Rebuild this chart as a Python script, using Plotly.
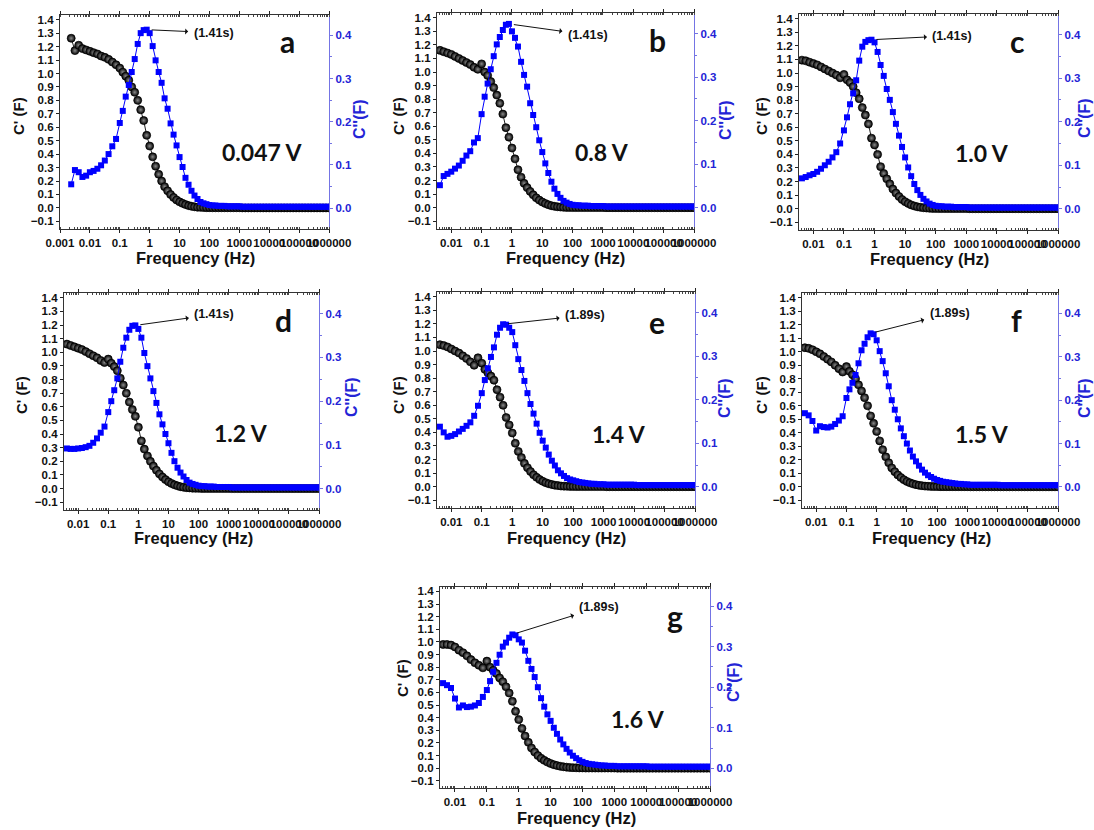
import math
import plotly.graph_objects as go

# ---------------- data ----------------
FREQ = [0.00237, 0.00316, 0.00422, 0.00562, 0.0075,
        0.01, 0.0133, 0.0178, 0.0237, 0.0316, 0.0422, 0.0562, 0.075,
        0.1, 0.126, 0.158, 0.2, 0.251, 0.316, 0.398, 0.501, 0.631, 0.794,
        1.0, 1.26, 1.58, 2.0, 2.51, 3.16, 3.98, 5.01, 6.31, 7.94,
        10, 12.6, 15.8, 20, 25.1, 31.6, 39.8, 50.1, 63.1, 79.4,
        100, 126, 158, 200, 251, 316, 398, 501, 631, 794,
        1000, 1260, 1580, 2000, 2510, 3160, 3980, 5010, 6310, 7940,
        10000, 12600, 15800, 20000, 25100, 31600, 39800, 50100, 63100, 79400,
        100000, 126000, 158000, 200000, 251000, 316000, 398000, 501000, 631000, 794000,
        1000000]
FREQ_A = FREQ
FREQ_BG = FREQ[2:]

X_TICKS = [0.001, 0.01, 0.1, 1, 10, 100, 1000, 10000, 100000, 1000000]
X_TICK_TEXT = ["0.001", "0.01", "0.1", "1", "10", "100", "1000", "10000", "100000", "1000000"]

LETTERS = ["a", "b", "c", "d", "e", "f", "g"]
VOLTAGES = ["0.047 V", "0.8 V", "1.0 V", "1.2 V", "1.4 V", "1.5 V", "1.6 V"]
TAU = ["(1.41s)", "(1.41s)", "(1.41s)", "(1.41s)", "(1.89s)", "(1.89s)", "(1.89s)"]
X_TITLE = "Frequency (Hz)"
Y1_TITLE = "C' (F)"
Y2_TITLE = "C''(F)"

C1_A = [1.262, 1.17, 1.21, 1.185, 1.175,
        1.165, 1.155, 1.145, 1.13, 1.12, 1.105, 1.085, 1.065,
        1.04, 1.01, 0.98, 0.95, 0.90, 0.86, 0.80, 0.73, 0.65, 0.54,
        0.46, 0.38, 0.31, 0.25, 0.20, 0.158, 0.127, 0.10, 0.078, 0.059,
        0.045, 0.034, 0.025, 0.017, 0.012, 0.008, 0.005, 0.004, 0.003, 0.002,
        0.002, 0.001, 0.001, 0.001, 0.001, 0.001, 0.001, 0.001, 0.001, 0.001,
        0.001, 0.0, 0.0, 0.0, 0.0, 0.0, 0.0, 0.0, 0.0, 0.0,
        0.0, 0.0, 0.0, 0.0, 0.0, 0.0, 0.0, 0.0, 0.0, 0.0,
        0.0, 0.0, 0.0, 0.0, 0.0, 0.0, 0.0, 0.0, 0.0, 0.0,
        0.0]
C2_A = [0.055, 0.088, 0.083, 0.072, 0.075,
        0.083, 0.086, 0.091, 0.099, 0.11, 0.125, 0.143, 0.16,
        0.197, 0.225, 0.258, 0.285, 0.315, 0.345, 0.38, 0.405, 0.412, 0.413,
        0.405, 0.375, 0.342, 0.315, 0.29, 0.254, 0.23, 0.196, 0.17, 0.145,
        0.118, 0.095, 0.07, 0.054, 0.04, 0.029, 0.021, 0.014, 0.011, 0.009,
        0.007, 0.006, 0.006, 0.005, 0.005, 0.005, 0.004, 0.004, 0.004, 0.004,
        0.004, 0.003, 0.003, 0.003, 0.003, 0.003, 0.003, 0.003, 0.003, 0.003,
        0.003, 0.003, 0.003, 0.003, 0.003, 0.003, 0.003, 0.003, 0.003, 0.003,
        0.003, 0.003, 0.003, 0.003, 0.003, 0.003, 0.003, 0.003, 0.003, 0.003,
        0.003]

C1_B = [1.16, 1.15, 1.14,
        1.13, 1.115, 1.10, 1.085, 1.07, 1.055, 1.035, 1.02,
        1.06, 1.0, 0.975, 0.93, 0.885, 0.83, 0.77, 0.69, 0.59, 0.52,
        0.44, 0.36, 0.28, 0.225, 0.18, 0.148, 0.12, 0.095, 0.073, 0.056,
        0.042, 0.031, 0.022, 0.015, 0.01, 0.007, 0.005, 0.003, 0.002, 0.002,
        0.001, 0.001, 0.001, 0.001, 0.001, 0.001, 0.001, 0.001, 0.001, 0.001,
        0.001, 0.0, 0.0, 0.0, 0.0, 0.0, 0.0, 0.0, 0.0, 0.0,
        0.0, 0.0, 0.0, 0.0, 0.0, 0.0, 0.0, 0.0, 0.0, 0.0,
        0.0, 0.0, 0.0, 0.0, 0.0, 0.0, 0.0, 0.0, 0.0, 0.0,
        0.0]
C2_B = [0.052, 0.073, 0.078,
        0.083, 0.09, 0.097, 0.108, 0.12, 0.13, 0.15, 0.16,
        0.215, 0.255, 0.285, 0.318, 0.348, 0.375, 0.392, 0.408, 0.42, 0.422,
        0.405, 0.39, 0.37, 0.335, 0.305, 0.278, 0.24, 0.213, 0.185, 0.155,
        0.128, 0.102, 0.08, 0.06, 0.044, 0.032, 0.023, 0.016, 0.012, 0.009,
        0.007, 0.006, 0.006, 0.005, 0.005, 0.005, 0.004, 0.004, 0.004, 0.004,
        0.004, 0.003, 0.003, 0.003, 0.003, 0.003, 0.003, 0.003, 0.003, 0.003,
        0.003, 0.003, 0.003, 0.003, 0.003, 0.003, 0.003, 0.003, 0.003, 0.003,
        0.003, 0.003, 0.003, 0.003, 0.003, 0.003, 0.003, 0.003, 0.003, 0.003,
        0.003]

C1_C = [1.095, 1.09, 1.08,
        1.07, 1.06, 1.045, 1.03, 1.015, 1.0, 0.985, 0.965,
        0.99, 0.95, 0.93, 0.9, 0.855, 0.81, 0.745, 0.69, 0.625, 0.52,
        0.47, 0.4, 0.31, 0.26, 0.22, 0.183, 0.145, 0.115, 0.09, 0.068,
        0.052, 0.039, 0.028, 0.02, 0.014, 0.01, 0.007, 0.005, 0.003, 0.002,
        0.002, 0.001, 0.001, 0.001, 0.001, 0.001, 0.001, 0.001, 0.001, 0.001,
        0.001, 0.0, 0.0, 0.0, 0.0, 0.0, 0.0, 0.0, 0.0, 0.0,
        0.0, 0.0, 0.0, 0.0, 0.0, 0.0, 0.0, 0.0, 0.0, 0.0,
        0.0, 0.0, 0.0, 0.0, 0.0, 0.0, 0.0, 0.0, 0.0, 0.0,
        0.0]
C2_C = [0.07, 0.073, 0.077,
        0.08, 0.085, 0.092, 0.1, 0.108, 0.118, 0.13, 0.15,
        0.18, 0.21, 0.24, 0.265, 0.295, 0.34, 0.372, 0.383, 0.387, 0.388,
        0.382, 0.36, 0.33, 0.305, 0.275, 0.25, 0.222, 0.195, 0.168, 0.142,
        0.118, 0.095, 0.075, 0.057, 0.043, 0.032, 0.023, 0.017, 0.012, 0.009,
        0.007, 0.006, 0.006, 0.005, 0.005, 0.005, 0.004, 0.004, 0.004, 0.004,
        0.004, 0.003, 0.003, 0.003, 0.003, 0.003, 0.003, 0.003, 0.003, 0.003,
        0.003, 0.003, 0.003, 0.003, 0.003, 0.003, 0.003, 0.003, 0.003, 0.003,
        0.003, 0.003, 0.003, 0.003, 0.003, 0.003, 0.003, 0.003, 0.003, 0.003,
        0.003]

C1_D = [1.06, 1.05, 1.04,
        1.03, 1.02, 1.005, 0.99, 0.975, 0.96, 0.94, 0.925,
        0.95, 0.92, 0.895, 0.865, 0.81, 0.76, 0.70, 0.635, 0.58, 0.53,
        0.45, 0.35, 0.29, 0.24, 0.20, 0.165, 0.135, 0.108, 0.085, 0.066,
        0.05, 0.038, 0.028, 0.02, 0.014, 0.01, 0.007, 0.005, 0.003, 0.002,
        0.002, 0.001, 0.001, 0.001, 0.001, 0.001, 0.001, 0.001, 0.001, 0.001,
        0.001, 0.0, 0.0, 0.0, 0.0, 0.0, 0.0, 0.0, 0.0, 0.0,
        0.0, 0.0, 0.0, 0.0, 0.0, 0.0, 0.0, 0.0, 0.0, 0.0,
        0.0, 0.0, 0.0, 0.0, 0.0, 0.0, 0.0, 0.0, 0.0, 0.0,
        0.0]
C2_D = [0.092, 0.091, 0.091,
        0.092, 0.093, 0.095, 0.098, 0.105, 0.115, 0.128, 0.142,
        0.175, 0.20, 0.225, 0.252, 0.29, 0.322, 0.345, 0.363, 0.372, 0.373,
        0.365, 0.345, 0.31, 0.28, 0.252, 0.223, 0.196, 0.17, 0.147, 0.125,
        0.104, 0.082, 0.063, 0.048, 0.037, 0.028, 0.02, 0.014, 0.011, 0.009,
        0.007, 0.006, 0.006, 0.005, 0.005, 0.005, 0.004, 0.004, 0.004, 0.004,
        0.004, 0.003, 0.003, 0.003, 0.003, 0.003, 0.003, 0.003, 0.003, 0.003,
        0.003, 0.003, 0.003, 0.003, 0.003, 0.003, 0.003, 0.003, 0.003, 0.003,
        0.003, 0.003, 0.003, 0.003, 0.003, 0.003, 0.003, 0.003, 0.003, 0.003,
        0.003]

C1_E = [1.047, 1.04, 1.03,
        1.015, 1.0, 0.985, 0.965, 0.945, 0.92, 0.895, 0.95,
        0.91, 0.865, 0.84, 0.815, 0.785, 0.715, 0.66, 0.60, 0.51, 0.455,
        0.396, 0.32, 0.26, 0.215, 0.172, 0.14, 0.112, 0.088, 0.069, 0.053,
        0.04, 0.03, 0.022, 0.016, 0.011, 0.008, 0.005, 0.004, 0.003, 0.002,
        0.002, 0.001, 0.001, 0.001, 0.001, 0.001, 0.001, 0.001, 0.001, 0.001,
        0.001, 0.0, 0.0, 0.0, 0.0, 0.0, 0.0, 0.0, 0.0, 0.0,
        0.0, 0.0, 0.0, 0.0, 0.0, 0.0, 0.0, 0.0, 0.0, 0.0,
        0.0, 0.0, 0.0, 0.0, 0.0, 0.0, 0.0, 0.0, 0.0, 0.0,
        0.0]
C2_E = [0.138, 0.125, 0.115,
        0.117, 0.121, 0.127, 0.133, 0.14, 0.148, 0.163, 0.186,
        0.215, 0.245, 0.272, 0.298, 0.32, 0.349, 0.365, 0.373, 0.372, 0.365,
        0.355, 0.325, 0.293, 0.268, 0.243, 0.215, 0.19, 0.168, 0.145, 0.124,
        0.106, 0.09, 0.074, 0.06, 0.049, 0.038, 0.031, 0.025, 0.02, 0.017,
        0.015, 0.013, 0.011, 0.01, 0.009, 0.008, 0.007, 0.007, 0.006, 0.006,
        0.006, 0.005, 0.005, 0.005, 0.005, 0.005, 0.005, 0.005, 0.005, 0.005,
        0.005, 0.004, 0.004, 0.004, 0.004, 0.004, 0.004, 0.004, 0.004, 0.004,
        0.004, 0.004, 0.004, 0.004, 0.004, 0.004, 0.004, 0.004, 0.004, 0.004,
        0.004]

C1_F = [1.03, 1.025, 1.015,
        1.0, 0.985, 0.965, 0.945, 0.925, 0.9, 0.875, 0.85,
        0.89, 0.855, 0.83, 0.80, 0.755, 0.71, 0.66, 0.60, 0.525, 0.47,
        0.41, 0.34, 0.275, 0.222, 0.178, 0.14, 0.112, 0.088, 0.069, 0.053,
        0.04, 0.03, 0.022, 0.016, 0.011, 0.008, 0.005, 0.004, 0.003, 0.002,
        0.002, 0.001, 0.001, 0.001, 0.001, 0.001, 0.001, 0.001, 0.001, 0.001,
        0.001, 0.0, 0.0, 0.0, 0.0, 0.0, 0.0, 0.0, 0.0, 0.0,
        0.0, 0.0, 0.0, 0.0, 0.0, 0.0, 0.0, 0.0, 0.0, 0.0,
        0.0, 0.0, 0.0, 0.0, 0.0, 0.0, 0.0, 0.0, 0.0, 0.0,
        0.0]
C2_F = [0.17, 0.165, 0.152,
        0.13, 0.14, 0.138, 0.137, 0.139, 0.145, 0.153, 0.163,
        0.205, 0.225, 0.24, 0.258, 0.285, 0.315, 0.33, 0.345, 0.354, 0.352,
        0.338, 0.313, 0.29, 0.262, 0.232, 0.20, 0.178, 0.156, 0.135, 0.117,
        0.10, 0.084, 0.07, 0.059, 0.049, 0.04, 0.033, 0.027, 0.023, 0.019,
        0.016, 0.014, 0.012, 0.011, 0.01, 0.009, 0.008, 0.007, 0.007, 0.006,
        0.006, 0.005, 0.005, 0.005, 0.005, 0.005, 0.005, 0.005, 0.005, 0.005,
        0.005, 0.004, 0.004, 0.004, 0.004, 0.004, 0.004, 0.004, 0.004, 0.004,
        0.004, 0.004, 0.004, 0.004, 0.004, 0.004, 0.004, 0.004, 0.004, 0.004,
        0.004]

C1_G = [0.98, 0.98, 0.975,
        0.96, 0.935, 0.915, 0.89, 0.86, 0.835, 0.815, 0.795,
        0.848, 0.80, 0.775, 0.75, 0.715, 0.685, 0.645, 0.595, 0.53, 0.45,
        0.385, 0.315, 0.255, 0.205, 0.16, 0.128, 0.10, 0.079, 0.062, 0.048,
        0.037, 0.028, 0.021, 0.015, 0.011, 0.008, 0.005, 0.004, 0.003, 0.002,
        0.002, 0.001, 0.001, 0.001, 0.001, 0.001, 0.001, 0.001, 0.001, 0.001,
        0.001, 0.0, 0.0, 0.0, 0.0, 0.0, 0.0, 0.0, 0.0, 0.0,
        0.0, 0.0, 0.0, 0.0, 0.0, 0.0, 0.0, 0.0, 0.0, 0.0,
        0.0, 0.0, 0.0, 0.0, 0.0, 0.0, 0.0, 0.0, 0.0, 0.0,
        0.0]
C2_G = [0.21, 0.205, 0.198,
        0.172, 0.15, 0.155, 0.151, 0.152, 0.155, 0.161, 0.176,
        0.193, 0.215, 0.238, 0.26, 0.28, 0.30, 0.31, 0.322, 0.33, 0.328,
        0.318, 0.31, 0.29, 0.265, 0.245, 0.225, 0.20, 0.173, 0.152, 0.133,
        0.117, 0.10, 0.085, 0.071, 0.059, 0.048, 0.039, 0.031, 0.025, 0.02,
        0.016, 0.013, 0.011, 0.01, 0.009, 0.008, 0.007, 0.007, 0.006, 0.006,
        0.006, 0.005, 0.005, 0.005, 0.005, 0.005, 0.005, 0.005, 0.005, 0.005,
        0.005, 0.004, 0.004, 0.004, 0.004, 0.004, 0.004, 0.004, 0.004, 0.004,
        0.004, 0.004, 0.004, 0.004, 0.004, 0.004, 0.004, 0.004, 0.004, 0.004,
        0.004]

SERIES = [
    (FREQ_A, C1_A, C2_A),
    (FREQ_BG, C1_B, C2_B),
    (FREQ_BG, C1_C, C2_C),
    (FREQ_BG, C1_D, C2_D),
    (FREQ_BG, C1_E, C2_E),
    (FREQ_BG, C1_F, C2_F),
    (FREQ_BG, C1_G, C2_G),
]

# ---------------- layout / style ----------------
W, H = 1094, 830
# plot-area boxes in page pixels: (left, right, top, bottom)
BOXES = [(60, 329, 15, 229), (437, 694, 13, 229), (799, 1058, 14, 230),
         (64, 319, 293, 510), (437, 695, 292, 508), (802, 1058, 293, 508),
         (440, 710, 587, 788)]
X_RANGES = [[-3, 6]] + [[-2.47, 6]] * 6
Y1_RANGE = [-0.157, 1.435]
Y2_RANGE = [-0.0485, 0.447]

LETTER_POS = [(287, 41), (657, 40), (1017, 41), (284, 320), (657, 322), (1016, 320), (675, 616)]
VOLT_POS = [(262, 152), (602, 152), (982, 153), (241, 433), (619, 434), (982, 434), (638, 719)]
TAU_OFFSETS = [(67, 3), (79, 11), (81, -4), (79, -11), (82, -9), (79, -20), (87, -27)]
X_TITLE_POS = [(195, 258), (565, 258), (929, 259), (193, 538), (566, 538), (931, 538), (576, 818)]
Y1_TITLE_POS = [(19, 116), (399, 116), (762, 116), (22, 395), (399, 395), (762, 395), (402, 678)]
Y2_TITLE_POS = [(360, 119), (725, 120), (1085, 118), (351, 397), (725, 398), (1085, 398), (733, 682)]

BLUE = "#0000ff"
BLUE_TXT = "#2424d6"
BLUE_AX = "#7474e4"
TICK_FONT = dict(family="Liberation Sans", size=11.5, color="#111", weight="bold")
XTITLE_FONT = dict(family="Liberation Sans", size=16.5, color="#111", weight="bold")
Y1TITLE_FONT = dict(family="Liberation Sans", size=15, color="#111", weight="bold")
Y2TITLE_FONT = dict(family="Liberation Sans", size=16, color=BLUE_TXT, weight="bold")

fig = go.Figure()
layout = dict(width=W, height=H, margin=dict(l=0, r=0, t=0, b=0, autoexpand=False),
              paper_bgcolor="white", plot_bgcolor="white", showlegend=False)
annotations = []

for p in range(7):
    n = p + 1
    sfx = "" if n == 1 else str(n)
    xa, ya, ya2 = "x" + sfx, "y" + sfx, "y" + str(n + 7)
    l, r, t, b = BOXES[p]
    dom_x = [l / W, r / W]
    dom_y = [1 - b / H, 1 - t / H]

    layout["xaxis" + sfx] = dict(
        domain=dom_x, anchor=ya, type="log", range=X_RANGES[p], automargin=False,
        tickmode="array", tickvals=X_TICKS, ticktext=X_TICK_TEXT, tickangle=0,
        ticks="outside", ticklen=3, tickwidth=1, tickcolor="#222",
        showline=True, linecolor="#333", linewidth=1.2, mirror="ticks",
        showgrid=False, zeroline=False, tickfont=TICK_FONT,
        minor=dict(dtick="D1", ticks="inside", ticklen=2, tickcolor="#444", showgrid=False),
    )
    layout["yaxis" + sfx] = dict(
        domain=dom_y, anchor=xa, range=Y1_RANGE, tick0=0, dtick=0.1, tickformat=".1f",
        automargin=False,
        ticks="outside", ticklen=3, tickwidth=1, tickcolor="#222",
        showline=True, linecolor="#333", linewidth=1.2,
        showgrid=False, zeroline=False, tickfont=TICK_FONT,
    )
    layout["yaxis" + str(n + 7)] = dict(
        overlaying=ya, anchor=xa, side="right", range=Y2_RANGE, tick0=0, dtick=0.1,
        automargin=False,
        tickformat=".1f", ticks="outside", ticklen=3, tickwidth=1, tickcolor=BLUE_AX,
        minor=dict(dtick=0.05, ticks="outside", ticklen=2, tickcolor=BLUE_AX),
        showline=True, linecolor=BLUE_AX, linewidth=1.2,
        showgrid=False, zeroline=False,
        tickfont=dict(family="Liberation Sans", size=11.5, color=BLUE_TXT, weight="bold"),
    )

    freq, c1, c2 = SERIES[p]
    fig.add_trace(go.Scatter(
        x=freq, y=c1, xaxis=xa, yaxis=ya, mode="lines+markers",
        line=dict(color="#222", width=1),
        marker=dict(symbol="circle", size=8, color="#000",
                    gradient=dict(type="radial", color="#8a8a8a"),
                    line=dict(color="#000", width=0.7)),
        name="C'"))
    fig.add_trace(go.Scatter(
        x=freq, y=c2, xaxis=xa, yaxis=ya2, mode="lines+markers",
        line=dict(color=BLUE, width=1),
        marker=dict(symbol="square", size=6, color=BLUE, line=dict(width=0)),
        name="C''"))

    # relaxation-time arrow pointing from the C'' peak to the label
    k = max(range(len(c2)), key=lambda i: c2[i])
    ox, oy = TAU_OFFSETS[p]
    annotations.append(dict(
        x=math.log10(freq[k]), y=c2[k], xref=xa, yref=ya2,
        ax=ox, ay=oy, axref="pixel", ayref="pixel",
        text=TAU[p], showarrow=True, arrowside="start", arrowhead=2,
        arrowsize=1, arrowwidth=1, arrowcolor="#111", standoff=5, startstandoff=4,
        font=dict(family="Liberation Sans", size=12.5, color="#111", weight="bold")))

    # axis titles (placed explicitly)
    tx, ty = X_TITLE_POS[p]
    annotations.append(dict(
        x=tx / W, y=1 - ty / H, xref="paper", yref="paper", showarrow=False,
        text=X_TITLE, xanchor="center", yanchor="middle", font=XTITLE_FONT))
    tx, ty = Y1_TITLE_POS[p]
    annotations.append(dict(
        x=tx / W, y=1 - ty / H, xref="paper", yref="paper", showarrow=False,
        text=Y1_TITLE, textangle=-90, xanchor="center", yanchor="middle", font=Y1TITLE_FONT))
    tx, ty = Y2_TITLE_POS[p]
    annotations.append(dict(
        x=tx / W, y=1 - ty / H, xref="paper", yref="paper", showarrow=False,
        text=Y2_TITLE, textangle=-90, xanchor="center", yanchor="middle", font=Y2TITLE_FONT))

    lx, ly = LETTER_POS[p]
    annotations.append(dict(
        x=lx / W, y=1 - ly / H, xref="paper", yref="paper", showarrow=False,
        text=LETTERS[p], xanchor="center", yanchor="middle",
        font=dict(family="Lato", size=30, color="#111", weight="bold")))
    vx, vy = VOLT_POS[p]
    annotations.append(dict(
        x=vx / W, y=1 - vy / H, xref="paper", yref="paper", showarrow=False,
        text=VOLTAGES[p], xanchor="center", yanchor="middle",
        font=dict(family="Lato", size=23, color="#111", weight="bold")))

layout["annotations"] = annotations
fig.update_layout(**layout)
fig.write_html("out.html")
